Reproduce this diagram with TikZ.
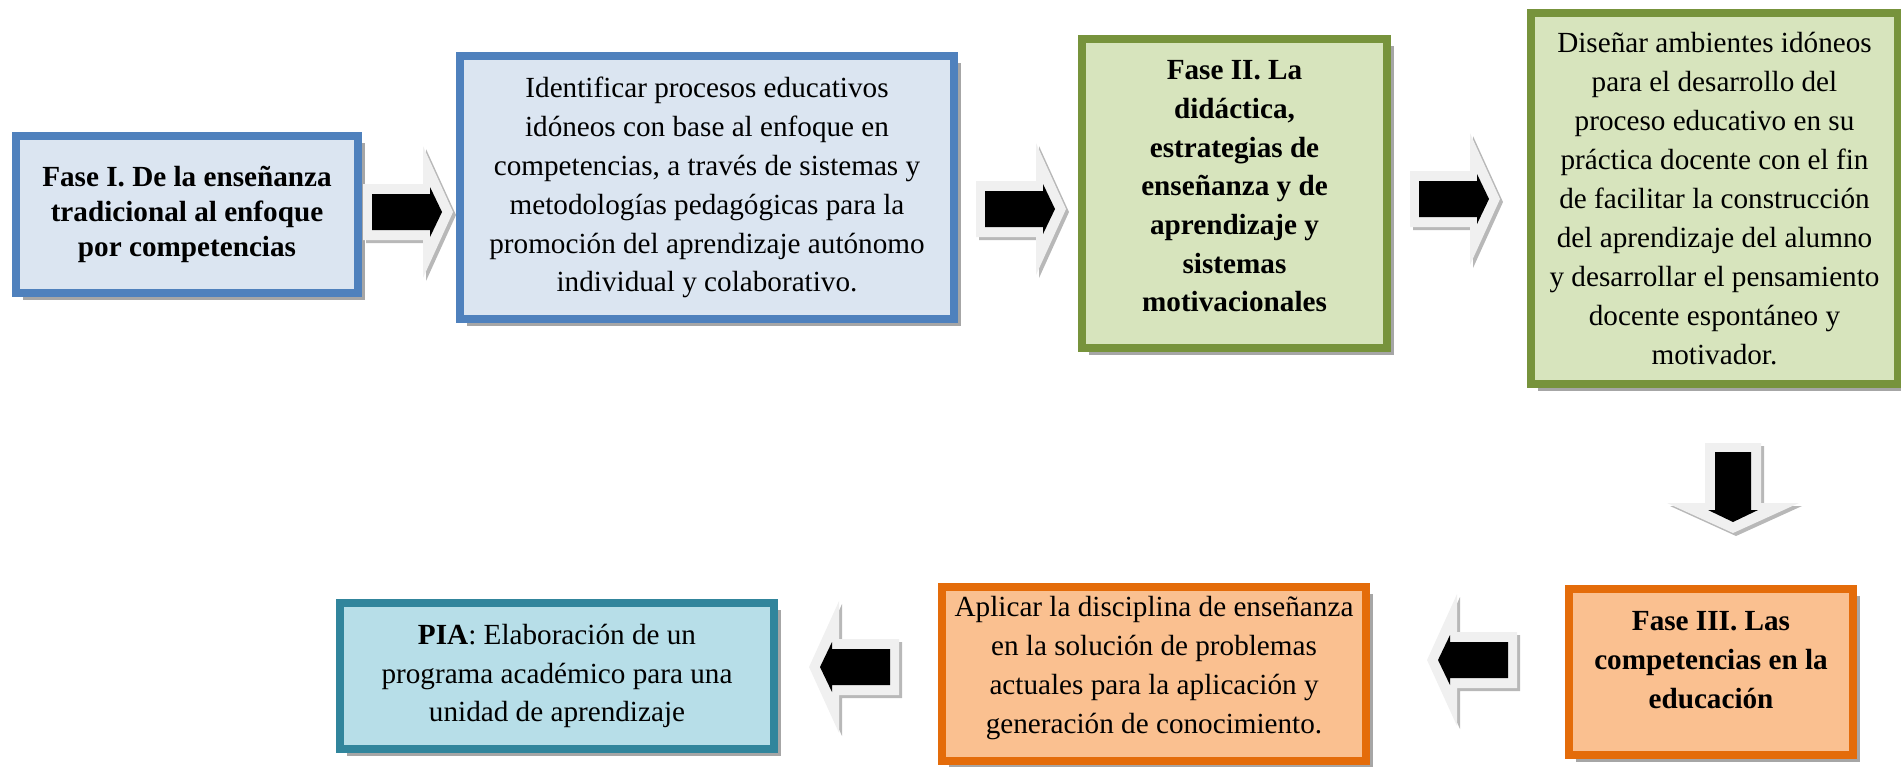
\documentclass[tikz,border=0pt]{standalone}
\usepackage{fontspec}
\setmainfont{Liberation Serif}
\usetikzlibrary{calc,shadows}

\definecolor{azulB}{HTML}{4F81BD}
\definecolor{azulF}{HTML}{DBE5F1}
\definecolor{verdeB}{HTML}{77933C}
\definecolor{verdeF}{HTML}{D7E4BD}
\definecolor{naranjaB}{HTML}{E46C0A}
\definecolor{naranjaF}{HTML}{FAC090}
\definecolor{tealB}{HTML}{31859C}
\definecolor{tealF}{HTML}{B7DEE8}

\tikzset{
  caja/.style={draw, line width=3pt, align=center, inner sep=0pt,
    font=\fontsize{10.8}{14.4}\selectfont,
    drop shadow={shadow xshift=2.6pt, shadow yshift=-2.6pt, fill=black!35, opacity=1}},
  tam/.style 2 args={minimum width=#1*0.37pt, minimum height=#2*0.37pt},
  negrita/.style={font=\fontsize{10.8}{14.3}\selectfont\bfseries},
  normal/.style={font=\fontsize{10.8}{14.4}\selectfont},
  pics/flecha/.style={code={
    \fill[black!28, shift={#1}] (-45,-28) -- (15,-28) -- (15,-66) -- (45,0) -- (15,66) -- (15,28) -- (-45,28) -- cycle;
    \fill[black!6] (-45,-28) -- (15,-28) -- (15,-66) -- (45,0) -- (15,66) -- (15,28) -- (-45,28) -- cycle;
    \fill[black] (-36,-18) -- (22,-18) -- (22,-25) -- (34,0) -- (22,25) -- (22,18) -- (-36,18) -- cycle;
  }}
}

\begin{document}
\begin{tikzpicture}[x=0.37pt, y=-0.37pt]
 \useasboundingbox (0,0) rectangle (1901,766);
 % fila de arriba
 \node[caja, draw=azulB, fill=azulF, tam={342}{157}, font=\fontsize{10.8}{13}\selectfont\bfseries]
   (f1) at (187,214.5) {Fase I. De la enseñanza\\tradicional al enfoque\\por competencias};
 \node[caja, draw=azulB, fill=azulF, tam={494}{263}]
   (p1) at (707,187.5) {Identificar procesos educativos\\idóneos con base al enfoque en\\competencias, a través de sistemas y\\metodologías pedagógicas para la\\promoción del aprendizaje autónomo\\individual y colaborativo.};
 \node[caja, draw=verdeB, fill=verdeF, tam={305}{309},
   label={[negrita, align=center, yshift=2.6pt]center:{Fase II. La\\didáctica,\\estrategias de\\enseñanza y de\\aprendizaje y\\sistemas\\motivacionales}}]
   (f2) at (1234.5,193.5) {};
 \node[caja, draw=verdeB, fill=verdeF, tam={367}{371}]
   (p3) at (1714.5,198.5) {Diseñar ambientes idóneos\\para el desarrollo del\\proceso educativo en su\\práctica docente con el fin\\de facilitar la construcción\\del aprendizaje del alumno\\y desarrollar el pensamiento\\docente espontáneo y\\motivador.};
 % fila de abajo
 \node[caja, draw=naranjaB, fill=naranjaF, tam={284}{166},
   label={[negrita, align=center, yshift=4.4pt]center:{Fase III. Las\\competencias en la\\educación}}]
   (f3) at (1711,672) {};
 \node[caja, draw=naranjaB, fill=naranjaF, tam={424}{174},
   label={[normal, align=center, yshift=2.2pt]center:{Aplicar la disciplina de enseñanza\\en la solución de problemas\\actuales para la aplicación y\\generación de conocimiento.}}]
   (p2) at (1154,674) {};
 \node[caja, draw=tealB, fill=tealF, tam={434}{146}]
   (pia) at (557,676) {\textbf{PIA}: Elaboración de un\\programa académico para una\\unidad de aprendizaje};
 %
 \pic at (408,212) {flecha={(3,3)}};
 \pic at (1021,209) {flecha={(3,3)}};
 \pic at (1455,199) {flecha={(3,3)}};
 \pic[rotate=-90] at (1733,488) {flecha={(3,-3)}};
 \pic[rotate=180] at (1472,660) {flecha={(-3,-3)}};
 \pic[rotate=180] at (854,667) {flecha={(-3,-3)}};
\end{tikzpicture}
\end{document}
